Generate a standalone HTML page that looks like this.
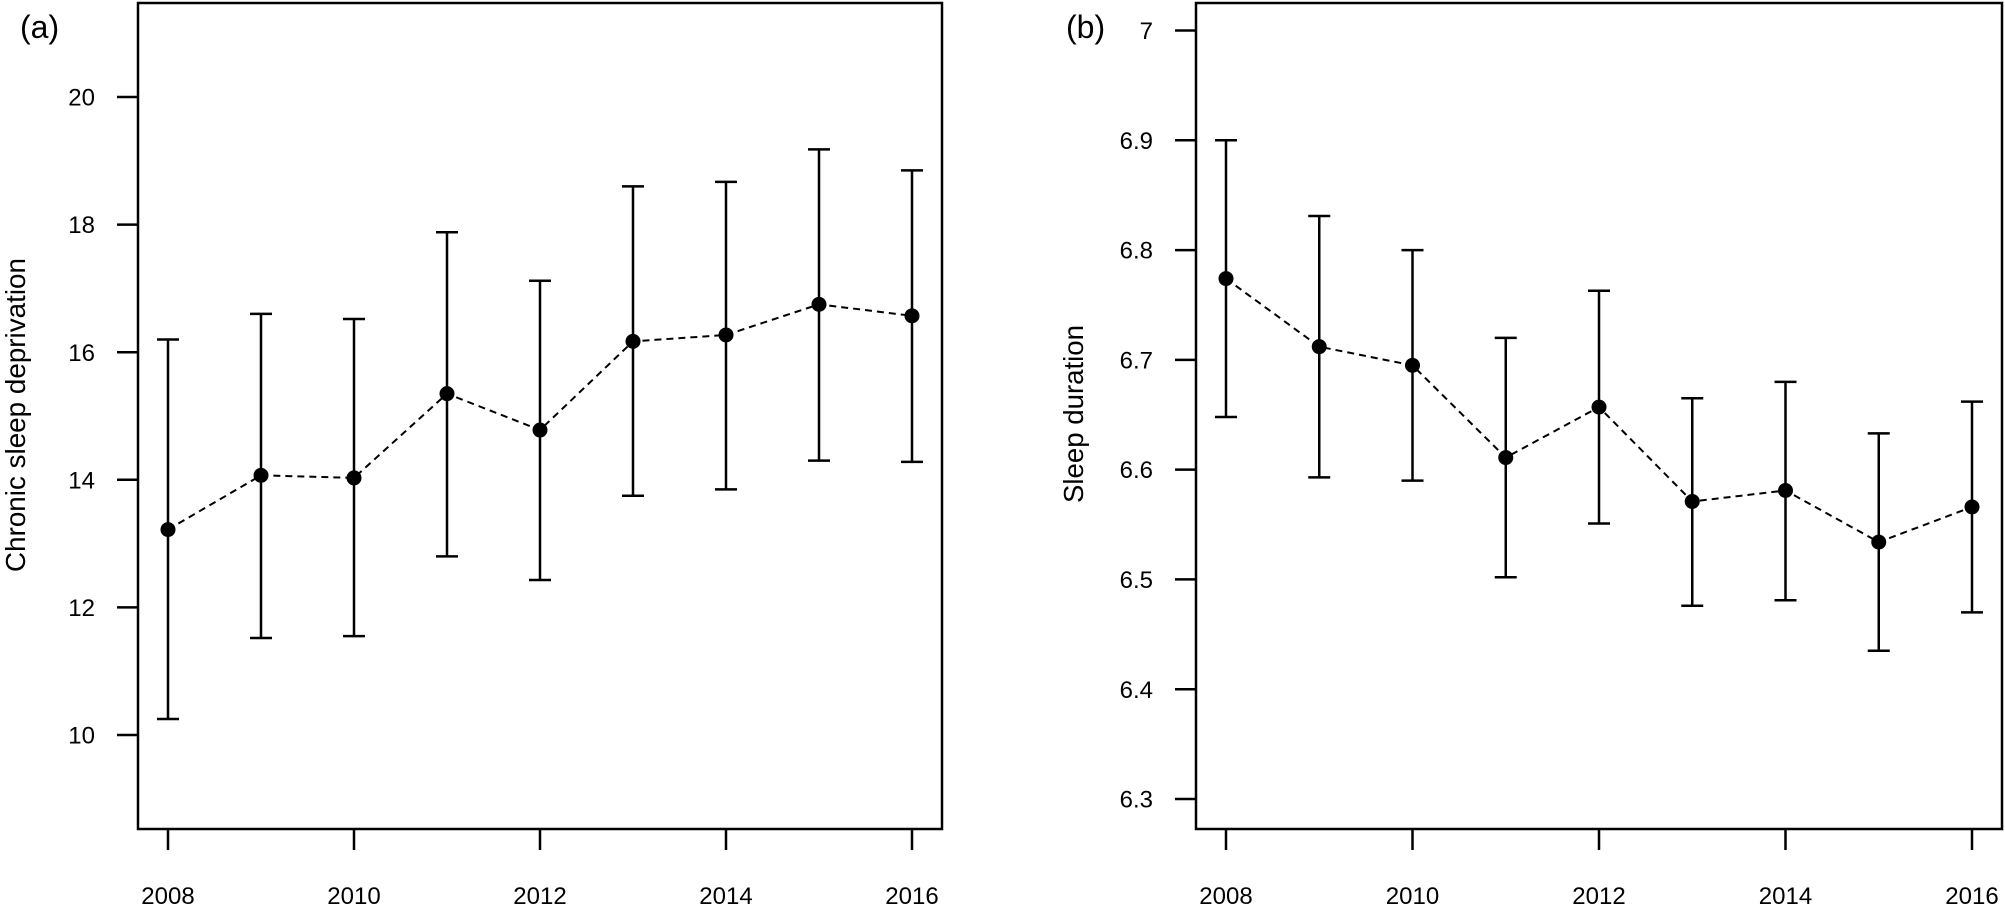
<!DOCTYPE html>
<html><head><meta charset="utf-8"><style>
html,body{margin:0;padding:0;background:#fff;}
svg{display:block;font-family:"Liberation Sans",Arial,sans-serif;}
</style></head><body>
<svg id="chart" width="2005" height="908" viewBox="0 0 2005 908"></svg>
<script>
const years = [2008,2009,2010,2011,2012,2013,2014,2015,2016];
const xTicks = [2008,2010,2012,2014,2016];
const depMean = [13.22,14.07,14.03,15.35,14.78,16.17,16.27,16.75,16.57];
const depLow  = [10.25,11.52,11.55,12.80,12.43,13.75,13.85,14.30,14.28];
const depHigh = [16.20,16.60,16.52,17.88,17.12,18.60,18.67,19.18,18.85];
const depTicks = [10,12,14,16,18,20];
const durMean = [6.774,6.712,6.695,6.611,6.657,6.571,6.581,6.534,6.566];
const durLow  = [6.648,6.593,6.590,6.502,6.551,6.476,6.481,6.435,6.470];
const durHigh = [6.900,6.831,6.800,6.720,6.763,6.665,6.680,6.633,6.662];
const durTicks = [6.3,6.4,6.5,6.6,6.7,6.8,6.9,7.0];
const durTickLabels = ["6.3","6.4","6.5","6.6","6.7","6.8","6.9","7"];

const NS="http://www.w3.org/2000/svg";
const svg=document.getElementById('chart');
function mk(tag,attrs,parent){const e=document.createElementNS(NS,tag);for(const k in attrs)e.setAttribute(k,attrs[k]);(parent||svg).appendChild(e);return e;}

function panel(cfg){
  const g=mk('g',{});
  
  
  const xs=v=>cfg.x0+(v-2008)*cfg.xStep;
  const ys=v=>cfg.yA+(v-cfg.vA)*(cfg.yB-cfg.yA)/(cfg.vB-cfg.vA);
  const box=mk('rect',{x:cfg.left,y:3,width:cfg.right-cfg.left,height:826,fill:'none',stroke:'#000','stroke-width':2.5},g);
  
  
  xTicks.forEach(t=>{
    const l=mk('line',{x1:xs(t),x2:xs(t),y1:829,y2:850,stroke:'#000','stroke-width':2.5},g);
    
    
    const tx=mk('text',{x:xs(t),y:904,'font-size':24,'text-anchor':'middle'},g);
    tx.textContent=t;
    
    
  });
  cfg.yTicks.forEach((t,i)=>{
    const l=mk('line',{x1:cfg.left-21,x2:cfg.left,y1:ys(t),y2:ys(t),stroke:'#000','stroke-width':2.5},g);
    
    
    const tx=mk('text',{x:cfg.left-43,y:ys(t)+8.6,'font-size':24,'text-anchor':'end'},g);
    tx.textContent=cfg.yLabels[i];
    
    
  });
  const yt=mk('text',{x:cfg.titleX,y:cfg.titleY,'font-size':28,'text-anchor':'middle',textLength:cfg.titleLen,lengthAdjust:'spacingAndGlyphs',transform:`rotate(-90 ${cfg.titleX} ${cfg.titleY})`},g);
  yt.textContent=cfg.title;
  
  
  const pl=mk('text',{x:cfg.labX,y:38,'font-size':32},g);
  pl.textContent=cfg.lab;
  
  
  const pts=years.map((y,i)=>xs(y)+','+ys(cfg.mean[i])).join(' ');
  const line=mk('polyline',{points:pts,fill:'none',stroke:'#000','stroke-width':2,'stroke-dasharray':'7,5'},g);
  
  
  years.forEach((y,i)=>{
    const x=xs(y),lo=ys(cfg.low[i]),hi=ys(cfg.high[i]);
    const eb=mk('path',{d:`M${x},${lo}V${hi}M${x-11},${lo}H${x+11}M${x-11},${hi}H${x+11}`,stroke:'#000','stroke-width':2.5,fill:'none'},g);
    
    
    const c=mk('circle',{cx:x,cy:ys(cfg.mean[i]),r:7.5,fill:'#000'},g);
    
    
  });
}
panel({name:'panel-a',left:138,right:942,x0:168,xStep:93,vA:10,yA:735,vB:20,yB:97,
  yTicks:depTicks,yLabels:depTicks.map(String),mean:depMean,low:depLow,high:depHigh,
  title:'Chronic sleep deprivation',titleX:25,titleY:415,titleLen:314,lab:'(a)',labX:20});
panel({name:'panel-b',left:1196,right:2002,x0:1226,xStep:93.25,vA:6.3,yA:799,vB:7.0,yB:30.5,
  yTicks:durTicks,yLabels:durTickLabels,mean:durMean,low:durLow,high:durHigh,
  title:'Sleep duration',titleX:1083,titleY:414,titleLen:178,lab:'(b)',labX:1066});
</script>
</body></html>
